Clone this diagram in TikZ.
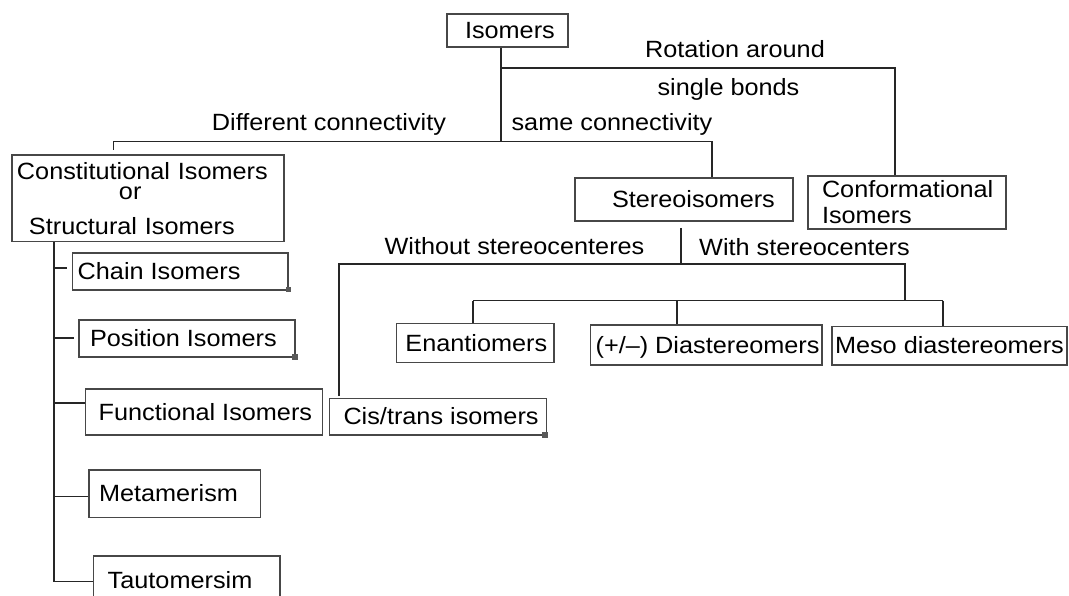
\documentclass[tikz,border=0pt]{standalone}
\usepackage{fontspec}
\setmainfont{Liberation Sans}[FakeStretch=1.075]
\begin{document}
\begin{tikzpicture}[x=1pt,y=-1pt,
  every node/.style={font=\fontsize{23.5}{26}\selectfont},
  box/.style={draw=black!72, line width=1.3pt, inner sep=0pt, anchor=center, text=black},
  one/.style={text height=17pt, text depth=1pt},
  conn/.style={draw=black!85, line width=1.4pt},
  lab/.style={inner sep=0pt, text=black, anchor=base},
  dot/.style={fill=black!65}]
\useasboundingbox (0,0) rectangle (1069,596);
% boxes
\node[box, one, minimum width=121pt, minimum height=33pt] (iso) at (507.5,30.5) {\makebox[121pt][l]{\hspace*{18pt}Isomers}};
\node[box, minimum width=272pt, minimum height=86.7pt, text width=272pt, align=left] (con) at (148,198.4)
  {\fontsize{23.5}{20}\selectfont\hspace*{5pt}Constitutional Isomers\\ \hspace*{107pt}or\\[9pt] \hspace*{17pt}Structural Isomers};
\node[box, one, minimum width=218pt, minimum height=43pt] (st) at (684,199.5) {\makebox[218pt][l]{\hspace*{37pt}Stereoisomers}};
\node[box, minimum width=198pt, minimum height=53pt, text width=198pt, align=left] (conf) at (907,202.5)
  {\fontsize{23.5}{23}\selectfont\hspace*{14pt}Conformational\\ \hspace*{14pt}Isomers};
\node[box, one, minimum width=215.3pt, minimum height=37pt] (chain) at (180.35,271.5) {\makebox[215.3pt][l]{\hspace*{5pt}Chain Isomers}};
\node[box, one, minimum width=216pt, minimum height=37pt] (pos) at (187,338.5) {\makebox[216pt][l]{\hspace*{11pt}Position Isomers}};
\node[box, one, minimum width=237pt, minimum height=46pt] (func) at (204.2,412) {\makebox[237pt][l]{\hspace*{13pt}Functional Isomers}};
\node[box, one, minimum width=171.7pt, minimum height=47.7pt] (meta) at (174.85,493.85) {\makebox[171.7pt][l]{\hspace*{10pt}Metamerism}};
\node[box, one, minimum width=186.3pt, minimum height=48pt] (tau) at (186.85,580) {\makebox[186.3pt][l]{\hspace*{14pt}Tautomersim}};
\node[box, one, minimum width=157.6pt, minimum height=39.4pt] (en) at (475.2,343) {\makebox[157.6pt][l]{\hspace*{9pt}Enantiomers}};
\node[box, one, minimum width=231.4pt, minimum height=40pt] (dia) at (706.3,345) {\makebox[231.4pt][l]{\hspace*{5pt}(+/--) Diastereomers}};
\node[box, one, minimum width=235pt, minimum height=38.3pt] (meso) at (949.5,345.85) {\makebox[235pt][l]{\hspace*{3pt}Meso diastereomers}};
\node[box, one, minimum width=217.2pt, minimum height=36.7pt] (cis) at (438.1,416.65) {\makebox[217.2pt][l]{\hspace*{14pt}Cis/trans isomers}};
% labels
\node[lab] (lrot) at (735,58) {Rotation around};
\node[lab] (lsb) at (728.5,96) {single bonds};
\node[lab] (ldiff) at (329,131) {Different connectivity};
\node[lab] (lsame) at (612,131) {same connectivity};
\node[lab] (lwo) at (514.5,255) {Without stereocenteres};
\node[lab] (lwi) at (804.5,256) {With stereocenters};
% junction coordinates
\coordinate (j0) at (501,68);
\coordinate (cf) at (895,68);
\coordinate (a1) at (501,141.7);
\coordinate (a2) at (113.6,141.7);
\coordinate (a2e) at (113.6,150);
\coordinate (a3) at (712,141.7);
\coordinate (b0) at (681,228);
\coordinate (b1) at (681,264);
\coordinate (b2) at (339,264);
\coordinate (b2e) at (339,396);
\coordinate (b3) at (905,264);
\coordinate (c1) at (905,300.7);
\coordinate (c0) at (473,300.7);
\coordinate (cd) at (677,300.7);
\coordinate (c2) at (943,300.7);
\coordinate (t1) at (54,581.7);
\coordinate (tch) at (54,268);
\coordinate (tpo) at (54,338);
\coordinate (tfu) at (54,403);
\coordinate (tme) at (54,496.7);
% connectors
\draw[conn] (iso.south -| a1) -- (a1);
\draw[conn] (j0) -- (cf) -- (cf |- conf.north);
\draw[conn] (a2e) -- (a2) -- (a3) -- (a3 |- st.north);
\draw[conn] (b0) -- (b1);
\draw[conn] (b2e) -- (b2) -- (b3) -- (c1);
\draw[conn] (c0) -- (c2);
\draw[conn] (c0) -- (c0 |- en.north);
\draw[conn] (cd) -- (cd |- dia.north);
\draw[conn] (c2) -- (c2 |- meso.north);
\draw[conn] (con.south -| t1) -- (t1) -- (t1 -| tau.west);
\draw[conn, shorten >=4.7pt] (tch) -- (tch -| chain.west);
\draw[conn, shorten >=4pt] (tpo) -- (tpo -| pos.west);
\draw[conn] (tfu) -- (tfu -| func.west);
\draw[conn] (tme) -- (tme -| meta.west);
% small corner marks
\fill[dot] (285.5,287) rectangle (291,292.5);
\fill[dot] (292,354) rectangle (298,359.5);
\fill[dot] (542,432) rectangle (548,438);
\end{tikzpicture}
\end{document}
